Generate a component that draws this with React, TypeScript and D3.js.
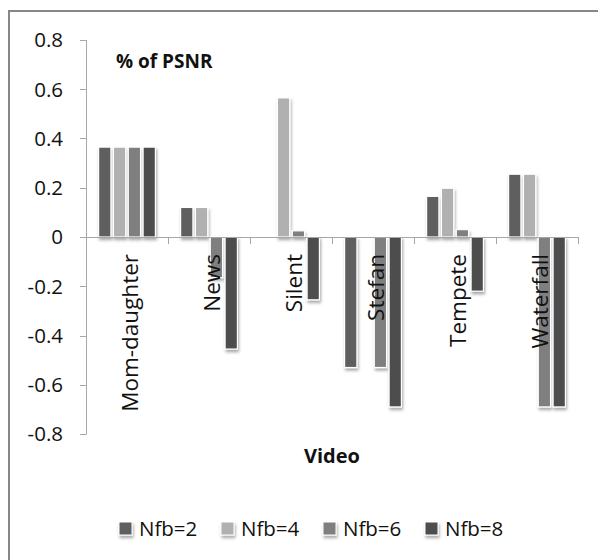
import React from "react";
import * as d3 from "d3";

const categories = ["Mom-daughter", "News", "Silent", "Stefan", "Tempete", "Waterfall"];
const seriesNames = ["Nfb=2", "Nfb=4", "Nfb=6", "Nfb=8"];
const nfb2 = [0.365, 0.12, 0, -0.53, 0.165, 0.255];
const nfb4 = [0.365, 0.12, 0.565, 0, 0.198, 0.255];
const nfb6 = [0.365, -0.165, 0.025, -0.53, 0.03, -0.69];
const nfb8 = [0.365, -0.455, -0.255, -0.69, -0.22, -0.69];
const seriesValues = [nfb2, nfb4, nfb6, nfb8];
const colors = ["#5f5f5f", "#b0b0b0", "#7f7f7f", "#4d4d4d"];
const yTicks = [0.8, 0.6, 0.4, 0.2, 0, -0.2, -0.4, -0.6, -0.8];

export default function App() {
  const W = 598;
  const H = 560;
  const x0 = d3.scaleBand<string>().domain(categories).range([86, 578]).paddingInner(0).paddingOuter(0);
  const x1 = d3.scaleBand<string>().domain(seriesNames).range([0, x0.bandwidth()]).paddingInner(0.17).paddingOuter(0.85);
  const y = d3.scaleLinear().domain([-0.8, 0.8]).range([434, 40]);
  const font = "'Open Sans', sans-serif";
  const axisColor = "#a6a6a6";
  const boundaries = categories.map((c) => x0(c) as number).concat([578]);
  const fmt = (t: number) => (t === 0 ? "0" : d3.format(".1f")(t).replace("\u2212", "-"));

  return (
    <svg width={W} height={H} style={{ position: "absolute", left: 0, top: 0, background: "#fff" }}>
      <defs>
        <filter id="sh" x="-50%" y="-50%" width="200%" height="200%">
          <feDropShadow dx="1" dy="2.5" stdDeviation="1.6" floodColor="#000" floodOpacity="0.35" />
        </filter>
      </defs>
      <rect x={0} y={0} width={W} height={H} fill="#fff" />
      <line x1={9} x2={W} y1={11} y2={11} stroke="#878787" strokeWidth={2} />
      <line x1={9} x2={9} y1={10} y2={H} stroke="#878787" strokeWidth={2} />

      {/* y axis */}
      <line x1={86.5} x2={86.5} y1={y(0.8)} y2={y(-0.8)} stroke={axisColor} strokeWidth={1} />
      {yTicks.map((t) => (
        <g key={t}>
          <line x1={80} x2={86.5} y1={Math.round(y(t)) + 0.5} y2={Math.round(y(t)) + 0.5} stroke={axisColor} />
          <text x={63} y={y(t)} dy="0.36em" textAnchor="end" fontFamily={font} fontSize={20.5} fill="#111">
            {fmt(t)}
          </text>
        </g>
      ))}

      {/* bars */}
      <g filter="url(#sh)">
        {categories.map((c, i) =>
          seriesNames.map((s, j) => {
            const v = seriesValues[j][i];
            if (v === 0) return null;
            const yTop = y(Math.max(0, v));
            const yBot = y(Math.min(0, v));
            return (
              <rect
                key={c + s}
                x={(x0(c) as number) + (x1(s) as number)}
                y={yTop}
                width={x1.bandwidth()}
                height={yBot - yTop}
                fill={colors[j]}
                stroke="#fff"
                strokeWidth={1.2}
              />
            );
          })
        )}
      </g>

      {/* x axis */}
      <line x1={86} x2={578.5} y1={y(0) + 0.5} y2={y(0) + 0.5} stroke={axisColor} strokeWidth={1} />
      {boundaries.map((b, i) => (
        <line key={i} x1={Math.round(b) + 0.5} x2={Math.round(b) + 0.5} y1={y(0)} y2={y(0) + 7} stroke={axisColor} />
      ))}

      {categories.map((c) => {
        const cx = (x0(c) as number) + x0.bandwidth() / 2;
        return (
          <text
            key={c}
            transform={`translate(${cx + 11},254) rotate(-90)`}
            textAnchor="end"
            fontFamily={font}
            fontSize={22.5}
            fill="#111"
          >
            {c}
          </text>
        );
      })}

      <text x={116} y={68} fontFamily={font} fontWeight="bold" fontSize={19} fill="#111">
        % of PSNR
      </text>
      <text x={332} y={463} textAnchor="middle" fontFamily={font} fontWeight="bold" fontSize={20} fill="#111">
        Video
      </text>

      {/* legend */}
      {seriesNames.map((s, j) => {
        const lx = 119 + j * 102;
        return (
          <g key={s}>
            <rect x={lx} y={522} width={13} height={13} fill={colors[j]} stroke="#fff" strokeWidth={1} filter="url(#sh)" />
            <text x={lx + 20} y={536} fontFamily={font} fontSize={20.5} fill="#111">
              {s}
            </text>
          </g>
        );
      })}
    </svg>
  );
}
